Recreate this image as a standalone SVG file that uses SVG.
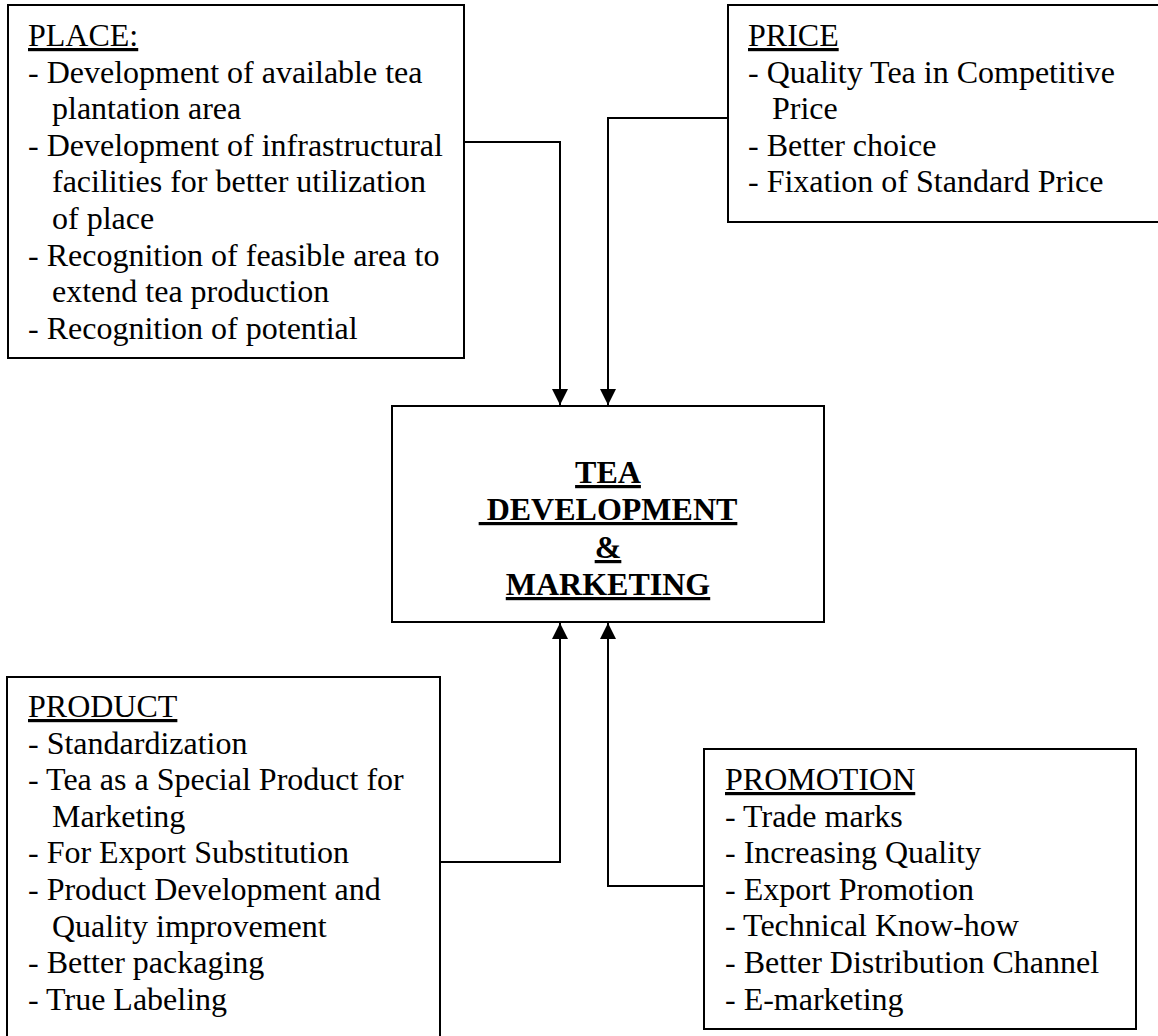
<svg xmlns="http://www.w3.org/2000/svg" width="1158" height="1036" viewBox="0 0 1158 1036">
<defs>
<style>
.box{fill:#fff;stroke:#000;stroke-width:2}
.t{font-family:"Liberation Serif","Times New Roman",serif;font-size:32px;fill:#000}
.u{text-decoration:underline}
.c{font-family:"Liberation Serif","Times New Roman",serif;font-size:32px;font-weight:bold;fill:#000;text-decoration:underline;text-anchor:middle}
.ln{fill:none;stroke:#000;stroke-width:2}
</style>
<marker id="ah" viewBox="0 0 16 16" refX="16" refY="8" markerWidth="16" markerHeight="16" markerUnits="userSpaceOnUse" orient="auto">
<path d="M0,0 L16,8 L0,16 Z" fill="#000"/>
</marker>
</defs>
<rect width="1158" height="1036" fill="#fff"/>
<g id="connectors">
<path class="ln" d="M464,142 H560 V405" marker-end="url(#ah)"/>
<path class="ln" d="M728,118 H608 V405" marker-end="url(#ah)"/>
<path class="ln" d="M440,862 H560 V623" marker-end="url(#ah)"/>
<path class="ln" d="M704,886 H608 V623" marker-end="url(#ah)"/>
</g>
<g id="place">
<rect class="box" x="8" y="5" width="456" height="353"/>
<text class="t u" x="28" y="46">PLACE:</text>
<text class="t" x="28" y="82.6">- Development of available tea</text>
<text class="t" x="52" y="119.2">plantation area</text>
<text class="t" x="28" y="155.8">- Development of infrastructural</text>
<text class="t" x="52" y="192.4">facilities for better utilization</text>
<text class="t" x="52" y="229">of place</text>
<text class="t" x="28" y="265.6">- Recognition of feasible area to</text>
<text class="t" x="52" y="302.2">extend tea production</text>
<text class="t" x="28" y="338.8">- Recognition of potential</text>
</g>
<g id="price">
<rect class="box" x="728" y="5" width="450" height="217"/>
<text class="t u" x="748" y="46">PRICE</text>
<text class="t" x="748" y="82.6">- Quality Tea in Competitive</text>
<text class="t" x="772" y="119.2">Price</text>
<text class="t" x="748" y="155.8">- Better choice</text>
<text class="t" x="748" y="192.4">- Fixation of Standard Price</text>
</g>
<g id="center">
<rect class="box" x="392" y="406" width="432" height="216"/>
<text class="c" x="608" y="483">TEA</text>
<text class="c" x="608" y="520" xml:space="preserve"> DEVELOPMENT</text>
<text class="c" x="608" y="558">&amp;</text>
<text class="c" x="608" y="595">MARKETING</text>
</g>
<g id="product">
<rect class="box" x="7" y="677" width="433" height="380"/>
<text class="t u" x="28" y="717">PRODUCT</text>
<text class="t" x="28" y="753.6">- Standardization</text>
<text class="t" x="28" y="790.2">- Tea as a Special Product for</text>
<text class="t" x="52" y="826.8">Marketing</text>
<text class="t" x="28" y="863.4">- For Export Substitution</text>
<text class="t" x="28" y="900">- Product Development and</text>
<text class="t" x="52" y="936.6">Quality improvement</text>
<text class="t" x="28" y="973.2">- Better packaging</text>
<text class="t" x="28" y="1009.8">- True Labeling</text>
</g>
<g id="promotion">
<rect class="box" x="704" y="749" width="432" height="280"/>
<text class="t u" x="725" y="790">PROMOTION</text>
<text class="t" x="725" y="826.6">- Trade marks</text>
<text class="t" x="725" y="863.2">- Increasing Quality</text>
<text class="t" x="725" y="899.8">- Export Promotion</text>
<text class="t" x="725" y="936.4">- Technical Know-how</text>
<text class="t" x="725" y="973">- Better Distribution Channel</text>
<text class="t" x="725" y="1009.6">- E-marketing</text>
</g>
</svg>
